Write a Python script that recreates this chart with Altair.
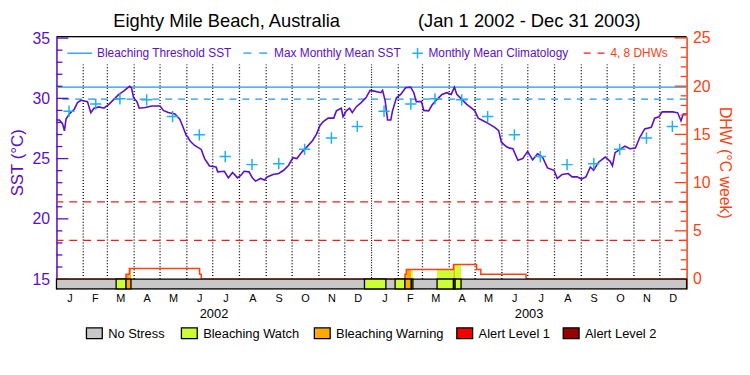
import altair as alt
import pandas as pd

# ---------------- data ----------------
title_left = "Eighty Mile Beach, Australia"
title_right = "(Jan 1 2002 - Dec 31 2003)"

# days since 2002-01-01 and SST (deg C)
sst_day = [0, 3.4, 7.2, 9.2, 11.1, 14.9, 20.6, 24.4, 28.3, 35.9, 39.8, 43.5, 49.3, 55.0, 60.7,
           66.5, 72.2, 77.9, 81.7, 84.8, 86.8, 89.4, 93.2, 95.9, 102.8, 110.4, 120.0, 123.8,
           129.5, 137.2, 142.9, 146.7, 150.5, 152.4, 154.4, 156.2, 160.1, 167.7, 171.6, 177.3,
           184.9, 186.8, 194.5, 199.1, 204.0, 209.7, 213.5, 217.4, 223.1, 226.9, 230.7, 236.4,
           241.0, 244.1, 251.0, 257.5, 263.2, 269.0, 273.9, 278.5, 284.2, 289.9, 296.8, 301.4,
           305.2, 309.1, 314.8, 321.2, 324.3, 330.0, 332.0, 335.8, 339.6, 342.7, 347.2, 353.0,
           358.7, 363.3, 368.2, 375.9, 377.8, 380.8, 383.6, 387.3, 389.3, 393.9, 398.8, 404.5,
           410.3, 414.0, 416.8, 422.9, 425.5, 431.2, 435.1, 440.9, 446.6, 452.3, 457.3, 461.0,
           463.8, 469.5, 475.3, 481.0, 484.8, 488.5, 494.3, 500.0, 507.7, 512.3, 515.4, 521.1,
           524.9, 528.7, 534.6, 540.1, 545.8, 551.6, 557.3, 563.0, 568.8, 576.4, 580.2, 585.9,
           592.8, 597.4, 603.1, 608.2, 613.4, 618.5, 622.3, 628.0, 635.7, 641.4, 644.1, 647.1,
           652.9, 658.6, 664.3, 670.7, 675.8, 681.5, 689.1, 693.0, 697.9, 701.7, 714.0, 719.7,
           723.5, 726.2, 730]
sst_val = [28.2, 28.2, 27.87, 27.3, 28.28, 28.7, 29.1, 29.65, 29.84, 29.73, 28.8, 29.18, 29.29, 29.18, 29.5,
           29.92, 30.33, 30.6, 30.83, 31.0, 30.9, 30.06, 29.73, 29.18, 29.24, 29.37, 29.37, 29.0,
           28.82, 28.7, 28.28, 27.6, 26.9, 26.77, 26.5, 26.36, 26.09, 25.76, 25.0, 24.39,
           24.3, 23.9, 23.95, 23.4, 23.85, 23.4, 23.6, 23.95, 23.9, 23.4, 23.13, 23.35,
           23.22, 23.48, 23.68, 23.76, 24.03, 24.45, 25.08, 25.0, 25.54, 25.95, 26.5, 27.05,
           27.73, 28.08, 28.36, 28.36, 28.96, 29.18, 28.47, 28.96, 29.18, 28.82, 29.29, 29.65,
           30.06, 30.66, 30.6, 30.47, 30.66, 29.79, 28.2, 28.2, 28.96, 30.06, 30.33, 30.88,
           30.93, 30.47, 29.73, 29.73, 29.0, 28.96, 29.45, 29.92, 30.33, 30.47, 30.33, 30.93,
           30.33, 29.92, 29.5, 29.18, 28.96, 28.36, 28.14, 27.92, 27.6, 27.32, 26.36, 26.0,
           25.87, 25.82, 24.86, 25.0, 25.6, 24.9, 25.4, 25.13, 24.23, 24.03, 23.35, 23.68,
           23.76, 23.48, 23.48, 23.3, 23.48, 24.3, 24.03, 24.7, 25.13, 24.77, 24.39, 25.49,
           25.76, 26.03, 25.82, 25.87, 26.77, 27.46, 27.6, 28.36, 28.47, 28.88, 28.88, 28.8,
           28.14, 28.7, 28.7]

# monthly mean climatology, Jan..Dec
clim_sst = [28.93, 29.53, 29.96, 29.88, 28.49, 26.97, 25.17, 24.5, 24.58, 25.77, 26.71, 27.67]
mmm_sst = 29.93
threshold_sst = 30.93
dhw_ref = [4, 8]

# degree heating weeks (step series), days since 2002-01-01
dhw_day = [0, 80.6, 84.5, 165.8, 167.7, 403.7, 405.3, 459.9, 486.7, 491.6, 544.0, 730]
dhw_val = [0, 0.5, 1.1, 0.5, 0, 0.5, 1.0, 1.5, 1.0, 0.5, 0, 0]

# stress level periods (1 watch, 2 warning)
seg_start = [69.1, 80.6, 356.8, 392.3, 403.7, 411.1, 440.9, 459.9, 461.8]
seg_end = [80.6, 86.3, 381.6, 403.7, 411.1, 412.9, 459.9, 461.8, 468.7]
seg_level = [1, 2, 1, 1, 2, 1, 1, 2, 1]

stress_labels = ["No Stress", "Bleaching Watch", "Bleaching Warning", "Alert Level 1", "Alert Level 2"]
stress_colors = ["#C8C8C8", "#CCFF33", "#FFAA00", "#F00000", "#960000"]

month_letters = list("JFMAMJJASOND")
years = ["2002", "2003"]
sst_major = [15, 20, 25, 30, 35]
sst_minor = [v for v in range(16, 35) if v % 5]
dhw_major = [0, 5, 10, 15, 20, 25]
dhw_minor = [v for v in range(1, 25) if v % 5]
top_legend = ["Bleaching Threshold SST", "Max Monthly Mean SST", "Monthly Mean Climatology", "4, 8 DHWs"]

# ---------------- styling ----------------
FONT = "Liberation Sans"
PURPLE = "#5A0FC8"
ORANGE = "#FF4010"
BLUE = "#1E96F0"
CYAN = "#1EB0F5"
RED = "#E82020"
W, H = 637, 255

start = pd.Timestamp("2002-01-01")
mstarts = pd.date_range("2002-01-01", periods=25, freq="MS")
mdays = [(d - start).days for d in mstarts]

x_scale = alt.Scale(domain=[0, 730], nice=False, zero=False)
sst_scale = alt.Scale(domain=[14.18, 35.12], nice=False, zero=False)
dhw_scale = alt.Scale(domain=[-1.026, 25.13], nice=False, zero=False)
stress_scale = alt.Scale(domain=[0, 1, 2, 3, 4], range=stress_colors)

one = pd.DataFrame({"k": [0]})
X = lambda f: alt.X(f, type="quantitative", scale=x_scale, axis=None)

left_axis = alt.Axis(values=sst_major, ticks=False, tickSize=0, grid=False, domainColor=PURPLE,
                     domainWidth=1.5, labelColor=PURPLE, labelFont=FONT, labelFontSize=16,
                     labelPadding=7, labelOverlap=False, title="SST (°C)", titleColor=PURPLE,
                     titleFont=FONT, titleFontSize=17, titleFontWeight="normal",
                     titleX=-39, titleY=127, titleAngle=270, titleAlign="center",
                     titleBaseline="middle")
right_axis = alt.Axis(orient="right", values=dhw_major, ticks=False, tickSize=0, grid=False,
                      domainColor=ORANGE, domainWidth=1.5, labelColor=ORANGE, labelFont=FONT,
                      labelFontSize=16, labelPadding=6, labelOverlap=False, title="DHW (°C week)",
                      titleColor=ORANGE, titleFont=FONT, titleFontSize=16, titleFontWeight="normal",
                      titleX=38.5, titleY=127, titleAngle=90, titleAlign="center",
                      titleBaseline="middle")
YS = lambda f: alt.Y(f, type="quantitative", scale=sst_scale, axis=left_axis)
YD = lambda f: alt.Y(f, type="quantitative", scale=dhw_scale, axis=right_axis)

# ---------------- SST group ----------------
grid_df = pd.DataFrame({"d": [d for d in mdays[1:24] if d != 365]})
year_df = pd.DataFrame({"d": [365]})
grid = alt.Chart(grid_df).mark_rule(color="black", strokeDash=[1, 2], strokeWidth=1.3).encode(
    x=X("d"), y=alt.value(28), y2=alt.value(245))
ygrid = alt.Chart(year_df).mark_rule(color="black", strokeDash=[1, 1.5], strokeWidth=1.2).encode(
    x=X("d"), y=alt.value(28), y2=alt.value(245))

thr = alt.Chart(pd.DataFrame({"v": [threshold_sst]})).mark_rule(color=BLUE, strokeWidth=1.3).encode(
    y=YS("v"))
mmm = alt.Chart(pd.DataFrame({"v": [mmm_sst]})).mark_rule(color=BLUE, strokeWidth=1.3, strokeDash=[7, 6]).encode(
    y=YS("v"))
sst_line = alt.Chart(pd.DataFrame({"d": sst_day, "v": sst_val})).mark_line(
    color=PURPLE, strokeWidth=1.6).encode(x=X("d"), y=YS("v"))

clim_rows = []
for i in range(24):
    clim_rows.append({"d": mdays[i] + 14.5, "v": clim_sst[i % 12]})
clim = alt.Chart(pd.DataFrame(clim_rows)).mark_point(
    shape="M-1,0L1,0M0,-1L0,1", size=130, filled=False, color=CYAN, strokeWidth=1.5, opacity=1).encode(
    x=X("d"), y=YS("v"))

lt_major = alt.Chart(pd.DataFrame({"v": sst_major})).mark_rule(color=PURPLE, strokeWidth=1.3).encode(
    y=YS("v"), x=alt.value(0), x2=alt.value(12))
lt_minor = alt.Chart(pd.DataFrame({"v": sst_minor})).mark_rule(color=PURPLE, strokeWidth=1.3).encode(
    y=YS("v"), x=alt.value(0), x2=alt.value(6))

sst_group = alt.layer(thr, grid, ygrid, mmm, sst_line, lt_major, lt_minor, clim)

# ---------------- DHW group ----------------
dref = alt.Chart(pd.DataFrame({"v": dhw_ref})).mark_rule(color=RED, strokeWidth=1.3, strokeDash=[8, 6]).encode(
    y=YD("v"))

fill_rows = []
for s, e, l in zip(seg_start, seg_end, seg_level):
    pts = [s] + [d for d in dhw_day if s < d < e] + [e]
    for a, b in zip(pts[:-1], pts[1:]):
        idx = max(i for i, d in enumerate(dhw_day) if d <= a + 1e-9)
        v = dhw_val[idx]
        if v > 0:
            fill_rows.append({"s": a, "e": b, "lo": 0.0, "hi": v, "level": l})
fills = alt.Chart(pd.DataFrame(fill_rows)).mark_rect().encode(
    x=X("s"), x2="e", y=YD("lo"), y2="hi",
    color=alt.Color("level:O", scale=stress_scale, legend=None))
dhw_line = alt.Chart(pd.DataFrame({"d": dhw_day, "v": dhw_val})).mark_line(
    color=ORANGE, strokeWidth=1.5, interpolate="step-after").encode(
    x=X("d"), y=YD("v"))

rt_major = alt.Chart(pd.DataFrame({"v": dhw_major})).mark_rule(color=ORANGE, strokeWidth=1.3).encode(
    y=YD("v"), x=alt.value(W), x2=alt.value(W - 12))
rt_minor = alt.Chart(pd.DataFrame({"v": dhw_minor})).mark_rule(color=ORANGE, strokeWidth=1.3).encode(
    y=YD("v"), x=alt.value(W), x2=alt.value(W - 6))

dhw_group = alt.layer(dref, fills, dhw_line, rt_major, rt_minor)

# ---------------- bar, texts, legends ----------------
bar_bg = alt.Chart(pd.DataFrame({"s": [0], "e": [730]})).mark_rect(
    fill=stress_colors[0], stroke="black", strokeWidth=1.3).encode(
    x=X("s"), x2="e", y=alt.value(245), y2=alt.value(255))
segs = alt.Chart(pd.DataFrame({"s": seg_start, "e": seg_end, "level": seg_level})).mark_rect(
    stroke="black", strokeWidth=1.3).encode(
    x=X("s"), x2="e", y=alt.value(245), y2=alt.value(255),
    fill=alt.Fill("level:O", scale=stress_scale, legend=None))

frame_top = alt.Chart(one).mark_rule(color="black", strokeWidth=1.3).encode(
    x=alt.value(0), x2=alt.value(W), y=alt.value(0))

t1 = alt.Chart(pd.DataFrame({"t": [title_left]})).mark_text(
    font=FONT, fontSize=18.5, color="black", align="center", baseline="middle").encode(
    text="t:N", x=alt.value(172), y=alt.value(-16))
t2 = alt.Chart(pd.DataFrame({"t": [title_right]})).mark_text(
    font=FONT, fontSize=18.5, color="black", align="center", baseline="middle").encode(
    text="t:N", x=alt.value(478), y=alt.value(-16))

mlab = pd.DataFrame({"d": [(mdays[i] + mdays[i + 1]) / 2 for i in range(24)],
                     "t": [month_letters[i % 12] for i in range(24)]})
months = alt.Chart(mlab).mark_text(font=FONT, fontSize=11, color="black", baseline="alphabetic").encode(
    x=X("d"), y=alt.value(268.5), text="t:N")
ylab = pd.DataFrame({"d": [182.5, 547.5], "t": years})
yrs = alt.Chart(ylab).mark_text(font=FONT, fontSize=13, color="black", baseline="alphabetic").encode(
    x=X("d"), y=alt.value(284.5), text="t:N")

LY = 16.7
leg_items = [
    alt.Chart(one).mark_rule(color=BLUE, strokeWidth=1.3).encode(x=alt.value(11), x2=alt.value(36), y=alt.value(LY)),
    alt.Chart(one).mark_rule(color=BLUE, strokeWidth=1.3, strokeDash=[8, 8]).encode(x=alt.value(189), x2=alt.value(213), y=alt.value(LY)),
    alt.Chart(one).mark_point(shape="M-1,0L1,0M0,-1L0,1", size=110, filled=False, color=CYAN, strokeWidth=1.5, opacity=1).encode(x=alt.value(365), y=alt.value(LY)),
    alt.Chart(one).mark_rule(color=RED, strokeWidth=1.3, strokeDash=[7, 7]).encode(x=alt.value(533), x2=alt.value(555), y=alt.value(LY)),
]
top_x = [41, 220, 376, 560]
top_col = [PURPLE, PURPLE, PURPLE, ORANGE]
for lab, xx, cc in zip(top_legend, top_x, top_col):
    leg_items.append(alt.Chart(pd.DataFrame({"t": [lab]})).mark_text(
        font=FONT, fontSize=12, color=cc, align="left", baseline="alphabetic").encode(
        text="t:N", x=alt.value(xx), y=alt.value(20.5)))

box_x = [30.3, 126.3, 260.7, 404.7, 512.3]
for lab, col, bx in zip(stress_labels, stress_colors, box_x):
    leg_items.append(alt.Chart(one).mark_rect(fill=col, stroke="black", strokeWidth=1.3).encode(
        x=alt.value(bx), x2=alt.value(bx + 16), y=alt.value(294.3), y2=alt.value(305.3)))
    leg_items.append(alt.Chart(pd.DataFrame({"t": [lab]})).mark_text(
        font=FONT, fontSize=13, color="black", align="left", baseline="alphabetic").encode(
        text="t:N", x=alt.value(bx + 22), y=alt.value(305)))

deco = alt.layer(bar_bg, segs, frame_top, t1, t2, months, yrs, *leg_items)

chart = alt.layer(sst_group, dhw_group, deco).resolve_scale(y="independent").properties(
    width=W, height=H, autosize=alt.AutoSizeParams(type="none"),
    padding={"left": 49, "top": 27, "right": 56, "bottom": 85}
).configure_view(stroke=None).configure(background="white")

chart.save("out.html", embed_options={"renderer": "svg", "actions": False})
